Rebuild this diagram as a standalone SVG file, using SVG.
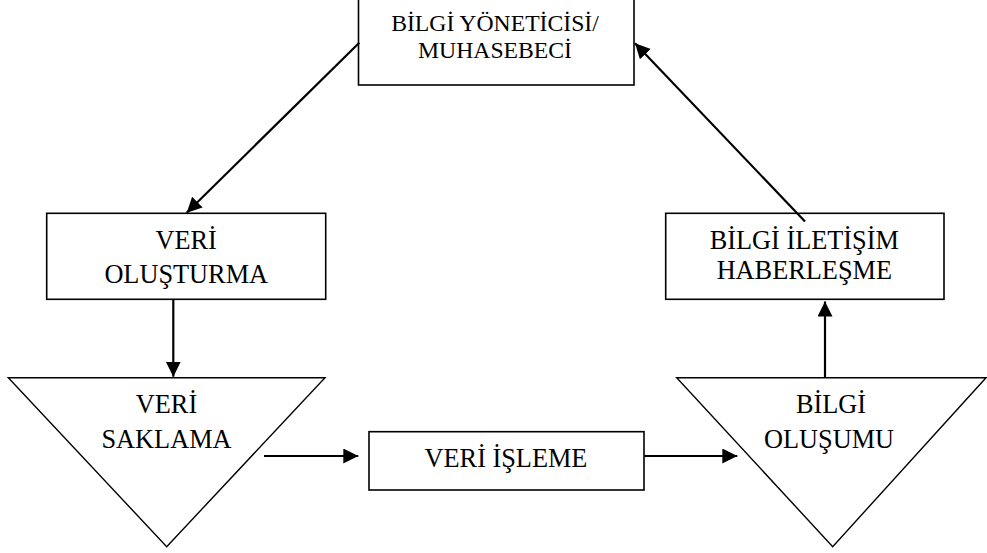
<svg xmlns="http://www.w3.org/2000/svg" width="987" height="553" viewBox="0 0 987 553">
  <style>
    .box { fill: #fff; stroke: #000; stroke-width: 1.6; }
    .tri { fill: #fff; stroke: #000; stroke-width: 1.4; }
    .lbl { font-family: "Liberation Serif", "Times New Roman", serif; font-size: 26.3px; fill: #000; text-anchor: middle; }
    .sm { font-size: 23.7px; }
    .arrow { fill: none; stroke: #000; stroke-width: 2.2; marker-end: url(#head); }
  </style>
  <defs>
    <marker id="head" markerUnits="userSpaceOnUse" markerWidth="16" markerHeight="16" refX="15" refY="7.5" orient="auto">
      <path d="M0,0 L15,7.5 L0,15 Z" fill="#000"/>
    </marker>
  </defs>
  <rect width="987" height="553" fill="#fff"/>

  <g id="bilgi-yoneticisi">
    <rect class="box" x="358.5" y="-2" width="275.5" height="87"/>
    <text class="lbl sm" x="495" y="31">BİLGİ YÖNETİCİSİ/</text>
    <text class="lbl sm" x="495" y="58">MUHASEBECİ</text>
  </g>

  <g id="veri-olusturma">
    <rect class="box" x="46.7" y="213.3" width="279" height="86"/>
    <text class="lbl" x="186.2" y="249.3">VERİ</text>
    <text class="lbl" x="186.2" y="283.3">OLUŞTURMA</text>
  </g>

  <g id="veri-saklama">
    <polygon class="tri" points="8.3,377.7 325,377.7 166.7,546.7"/>
    <text class="lbl" x="166.5" y="413.3">VERİ</text>
    <text class="lbl" x="166.5" y="448.3">SAKLAMA</text>
  </g>

  <g id="veri-isleme">
    <rect class="box" x="369" y="431.7" width="275" height="58.3"/>
    <text class="lbl" x="506" y="466.7">VERİ İŞLEME</text>
  </g>

  <g id="bilgi-olusumu">
    <polygon class="tri" points="676.7,377.7 986,377.7 832.7,546.7"/>
    <text class="lbl" x="831" y="413.3">BİLGİ</text>
    <text class="lbl" x="829" y="448.3">OLUŞUMU</text>
  </g>

  <g id="bilgi-iletisim">
    <rect class="box" x="665.7" y="213.3" width="278.3" height="86"/>
    <text class="lbl" x="804.3" y="249.3">BİLGİ İLETİŞİM</text>
    <text class="lbl" x="804.3" y="279.3">HABERLEŞME</text>
  </g>

  <g id="connectors">
    <line class="arrow" x1="359.3" y1="42.7" x2="186.7" y2="212.7"/>
    <line class="arrow" x1="173.3" y1="299.3" x2="173.3" y2="376.7"/>
    <line class="arrow" x1="264" y1="456" x2="358.3" y2="456"/>
    <line class="arrow" x1="644" y1="456" x2="737.3" y2="456"/>
    <line class="arrow" x1="825" y1="377.7" x2="825" y2="301.5"/>
    <line class="arrow" x1="805" y1="221.5" x2="635" y2="43.3"/>
  </g>
</svg>
